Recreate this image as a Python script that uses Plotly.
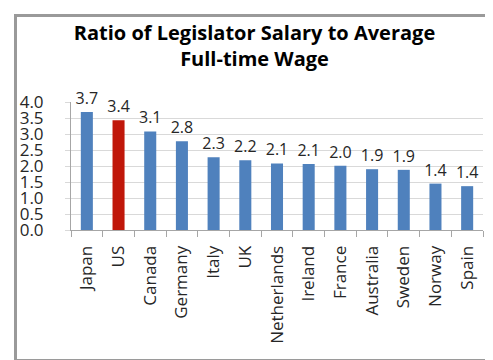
import plotly.graph_objects as go

countries = ["Japan", "US", "Canada", "Germany", "Italy", "UK", "Netherlands",
             "Ireland", "France", "Australia", "Sweden", "Norway", "Spain"]
ratios = [3.69, 3.43, 3.08, 2.77, 2.27, 2.18, 2.08, 2.06, 2.01, 1.90, 1.88, 1.45, 1.37]
highlight = "US"

BLUE = "#4F81BD"
RED = "#C0170A"
colors = [RED if c == highlight else BLUE for c in countries]

FONT = "Open Sans"

fig = go.Figure()
fig.add_trace(go.Bar(
    x=countries, y=ratios,
    marker=dict(color=colors, line=dict(width=0)),
    text=ratios, texttemplate="%{y:.1f}", textposition="outside",
    constraintext="none",
    textfont=dict(family=FONT, size=16, color="#262626"),
    cliponaxis=False, hoverinfo="x+y",
))
# empty trace on a full-size frame subplot (draws the chart border via axis lines)
fig.add_trace(go.Scatter(x=[None], y=[None], xaxis="x2", yaxis="y2",
                         mode="lines", hoverinfo="skip", showlegend=False))

W, H = 493, 360
# chart border box (pixels)
BL, BR, BT, BB = 8, 485, 8, 352
# plot area (pixels)
PL, PR, PT, PB = 63, 475, 94, 222
bw, bh = BR - BL, BB - BT

frame = dict(color="#9A9A9A", width=2)

fig.update_layout(
    width=W, height=H,
    margin=dict(l=BL, r=W - BR, t=BT, b=H - BB, autoexpand=False),
    paper_bgcolor="white", plot_bgcolor="rgba(0,0,0,0)",
    bargap=0.62,
    showlegend=False,
    title=dict(text="<b>Ratio of Legislator Salary to Average<br>Full-time Wage</b>",
               x=0.5, xanchor="center", y=0.912, yanchor="top",
               font=dict(family=FONT, size=20, color="#000000")),
    font=dict(family=FONT, color="#262626"),
    xaxis=dict(
        domain=[(PL - BL) / bw, (PR - BL) / bw], automargin=False,
        tickangle=-90, tickfont=dict(family=FONT, size=17, color="#262626"),
        showline=True, linecolor="#A6A6A6", linewidth=1,
        ticks="outside", ticklen=6, tickcolor="#A6A6A6", tickson="boundaries",
        showgrid=False, ticklabelstandoff=8,
    ),
    yaxis=dict(
        domain=[(BB - PB) / bh, (BB - PT) / bh], automargin=False,
        range=[0, 4], dtick=0.5, tickformat=".1f",
        tickfont=dict(family=FONT, size=17, color="#262626"),
        showline=True, linecolor="#A6A6A6", linewidth=1,
        ticks="outside", ticklen=5, tickcolor="#D9D9D9",
        showgrid=True, gridcolor="#D9D9D9", gridwidth=1,
        zeroline=False, ticklabelstandoff=18,
    ),
    xaxis2=dict(domain=[0, 1], anchor="y2", range=[0, 1], automargin=False,
                showline=True, mirror="all", linecolor=frame["color"], linewidth=2,
                showgrid=False, zeroline=False, showticklabels=False, ticks=""),
    yaxis2=dict(domain=[0, 1], anchor="x2", range=[0, 1], automargin=False,
                showline=True, mirror="all", linecolor=frame["color"], linewidth=2,
                showgrid=False, zeroline=False, showticklabels=False, ticks=""),
    shapes=[dict(type="rect", xref="paper", yref="paper", x0=0, x1=1, y0=0, y1=1,
                 line=frame, fillcolor="rgba(0,0,0,0)", layer="above")],
)

fig.write_html("out.html")
